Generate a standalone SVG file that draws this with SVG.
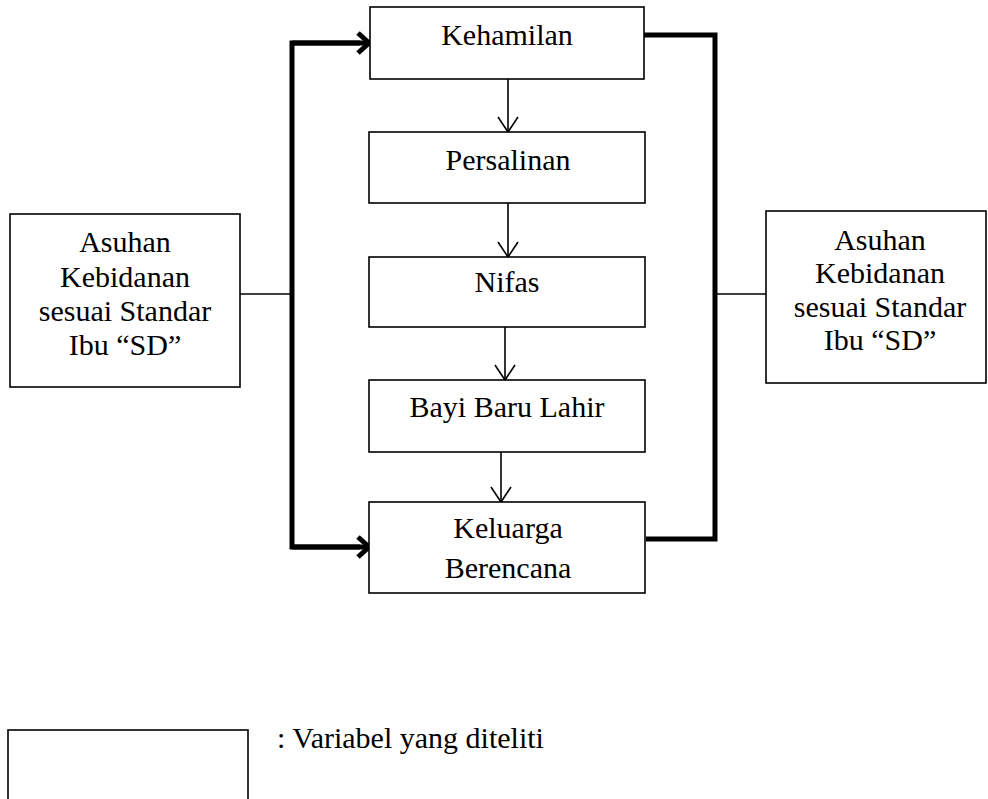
<svg xmlns="http://www.w3.org/2000/svg" width="988" height="799" viewBox="0 0 988 799">
<defs>
<marker id="thin" markerWidth="24" markerHeight="24" refX="12" refY="10" orient="auto" markerUnits="userSpaceOnUse" overflow="visible">
<path d="M-3,0 L12,10 L-3,20" fill="none" stroke="#000" stroke-width="1.6"/>
</marker>
<marker id="thick" markerWidth="24" markerHeight="24" refX="20" refY="12" orient="auto" markerUnits="userSpaceOnUse" overflow="visible">
<path d="M8,2 L19,12 L8,22" fill="none" stroke="#000" stroke-width="5" stroke-linejoin="miter"/>
</marker>
</defs>
<style>
.box{fill:#fff;stroke:#000;stroke-width:1.6}
.t{font-family:"Liberation Serif","Times New Roman",serif;font-size:30px;fill:#000;text-anchor:middle}
.tl{font-family:"Liberation Serif","Times New Roman",serif;font-size:30px;fill:#000}
.thin{fill:none;stroke:#000;stroke-width:1.6}
.thk{fill:none;stroke:#000;stroke-width:5;stroke-linejoin:miter}
</style>
<g id="connectors">
<line class="thin" x1="508" y1="79" x2="508" y2="132" marker-end="url(#thin)"/>
<line class="thin" x1="508" y1="203" x2="508" y2="257" marker-end="url(#thin)"/>
<line class="thin" x1="505" y1="327" x2="505" y2="380" marker-end="url(#thin)"/>
<line class="thin" x1="501" y1="452" x2="501" y2="502" marker-end="url(#thin)"/>
<line class="thin" x1="240" y1="294" x2="292" y2="294"/>
<line class="thin" x1="715" y1="294" x2="766" y2="294"/>
<path class="thk" d="M360,43 L292,43 L292,547 L360,547"/>
<line class="thk" x1="292" y1="43" x2="370" y2="43" marker-end="url(#thick)"/>
<line class="thk" x1="292" y1="547" x2="370" y2="547" marker-end="url(#thick)"/>
<path class="thk" d="M639,35 L715,35 L715,539 L646,539"/>
</g>
<g id="kehamilan">
<rect class="box" x="370" y="7" width="274" height="72"/>
<text class="t" x="507" y="45">Kehamilan</text>
</g>
<g id="persalinan">
<rect class="box" x="369" y="132" width="276" height="71"/>
<text class="t" x="508" y="170">Persalinan</text>
</g>
<g id="nifas">
<rect class="box" x="369" y="257" width="276" height="70"/>
<text class="t" x="507" y="292">Nifas</text>
</g>
<g id="bayi">
<rect class="box" x="369" y="380" width="276" height="72"/>
<text class="t" x="507" y="417">Bayi Baru Lahir</text>
</g>
<g id="kb">
<rect class="box" x="369" y="502" width="276" height="91"/>
<text class="t" x="508" y="538">Keluarga</text>
<text class="t" x="508" y="578">Berencana</text>
</g>
<g id="asuhan-left">
<rect class="box" x="10" y="214" width="230" height="173"/>
<text class="t" x="125" y="252">Asuhan</text>
<text class="t" x="125" y="287">Kebidanan</text>
<text class="t" x="125" y="321">sesuai Standar</text>
<text class="t" x="125" y="355">Ibu “SD”</text>
</g>
<g id="asuhan-right">
<rect class="box" x="766" y="211" width="220" height="172"/>
<text class="t" x="880" y="250">Asuhan</text>
<text class="t" x="880" y="283">Kebidanan</text>
<text class="t" x="880" y="317">sesuai Standar</text>
<text class="t" x="880" y="350">Ibu “SD”</text>
</g>
<g id="legend">
<rect class="box" x="8" y="730" width="240" height="80"/>
<text class="tl" x="277" y="748">: Variabel yang diteliti</text>
</g>
</svg>
